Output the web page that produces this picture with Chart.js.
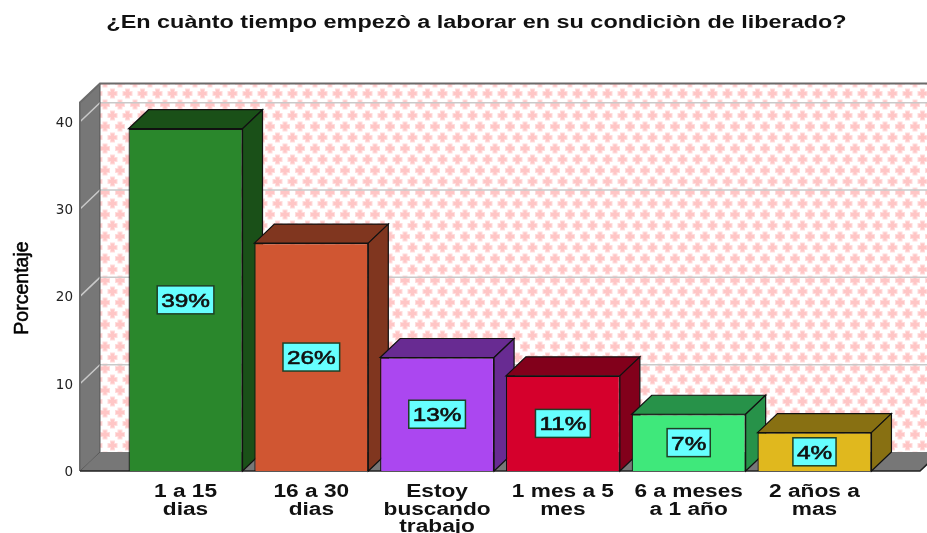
<!DOCTYPE html>
<html><head><meta charset="utf-8">
<style>html,body{margin:0;padding:0;background:#fff;overflow:hidden}canvas{display:block}</style>
<script src="https://cdn.jsdelivr.net/npm/chart.js@4"></script>
</head><body><canvas id="c" width="927" height="533"></canvas>
<script>
const titleText = "¿En cuànto tiempo empezò a laborar en su condiciòn de liberado?";
const yTitle = "Porcentaje";
const categories = [["1 a 15","dias"],["16 a 30","dias"],["Estoy","buscando","trabajo"],["1 mes a 5","mes"],["6 a meses","a 1 año"],["2 años a","mas"]];
const values = [39.2,26.1,13.0,10.9,6.5,4.4];
const valueLabels = ["39%","26%","13%","11%","7%","4%"];
const frontColors = ["#2a872c","#d05632","#ab47f0","#d5002c","#3fe87b","#e0b81e"];
const topColors = ["#1a5018","#80361f","#682b92","#82001b","#279249","#887012"];
const sideColors = ["#1a5018","#80361f","#682b92","#82001b","#279249","#887012"];
const yTicks = [0,10,20,30,40];
const DX = 20, DY = -19;

function makePattern(ctx){
  const t=document.createElement('canvas');t.width=15;t.height=22;
  const g=t.getContext('2d');
  g.fillStyle='#fff';g.fillRect(0,0,15,22);
  const plus=(x,y)=>{
    g.fillStyle='#ffdcdc';g.fillRect(x-5,y-2.5,10,5);g.fillRect(x-2.5,y-5,5,10);
    g.fillStyle='#ffc6c6';g.fillRect(x-4,y-1.5,8,3);g.fillRect(x-1.5,y-4,3,8);
  };
  plus(7.5,5.5);plus(0,16.5);plus(15,16.5);
  return ctx.createPattern(t,'repeat');
}
function poly(ctx,pts,fill,stroke,w){
  ctx.beginPath();pts.forEach((p,i)=>i?ctx.lineTo(p[0],p[1]):ctx.moveTo(p[0],p[1]));ctx.closePath();
  if(fill){ctx.fillStyle=fill;ctx.fill();}
  if(stroke){ctx.strokeStyle=stroke;ctx.lineWidth=w||1;ctx.stroke();}
}
function wideText(ctx,txt,x,y,font,sx,color,rot,heavy){
  ctx.save();
  ctx.translate(x,y);
  if(rot)ctx.rotate(rot);
  ctx.scale(sx,1);
  ctx.font=font;ctx.fillStyle=color;ctx.textAlign='center';ctx.textBaseline='alphabetic';
  ctx.fillText(txt,0,0);
  if(heavy){ctx.strokeStyle=color;ctx.lineWidth=heavy;ctx.strokeText(txt,0,0);}
  ctx.restore();
}
const box3d={id:'box3d',
  beforeDatasetsDraw(chart){
    const {ctx,chartArea:a,scales:{y}}=chart;
    ctx.save();
    const L=a.left,R=a.right,T=a.top,B=a.bottom;
    poly(ctx,[[L+DX,T+DY],[R+DX,T+DY],[R+DX,B+DY],[L+DX,B+DY]],makePattern(ctx));
    poly(ctx,[[L,T],[L+DX,T+DY],[L+DX,B+DY],[L,B]],'#777777');
    poly(ctx,[[L,B],[L+DX,B+DY],[R+DX,B+DY],[R,B]],'#777777');
    ctx.strokeStyle='#c9c9c9';ctx.lineWidth=1.5;
    yTicks.slice(1).forEach(v=>{
      const p=y.getPixelForValue(v);
      ctx.beginPath();ctx.moveTo(L,p);ctx.lineTo(L+DX,p+DY);ctx.lineTo(R+DX,p+DY);ctx.stroke();
    });
    ctx.strokeStyle='#555';ctx.lineWidth=1;
    ctx.beginPath();ctx.moveTo(L+DX,T+DY);ctx.lineTo(L+DX,B+DY);ctx.stroke();
    ctx.beginPath();ctx.moveTo(L,B);ctx.lineTo(L+DX,B+DY);ctx.stroke();
    ctx.strokeStyle='#6b6b6b';ctx.lineWidth=2;
    ctx.beginPath();ctx.moveTo(L,B);ctx.lineTo(L,T);ctx.lineTo(L+DX,T+DY);ctx.lineTo(R+DX,T+DY);ctx.stroke();
    ctx.strokeStyle='#222';ctx.lineWidth=1.5;
    ctx.beginPath();ctx.moveTo(L,B);ctx.lineTo(R,B);ctx.lineTo(R+DX,B+DY);ctx.stroke();
    chart.getDatasetMeta(0).data.forEach((b,i)=>{
      const l=b.x-b.width/2,r=b.x+b.width/2,t=b.y,bt=b.base;
      poly(ctx,[[l,t],[l+DX,t+DY],[r+DX,t+DY],[r,t]],topColors[i],'#111',1.2);
      poly(ctx,[[r,t],[r+DX,t+DY],[r+DX,bt+DY],[r,bt]],sideColors[i],'#111',1.2);
    });
    ctx.restore();
  },
  afterDatasetsDraw(chart){
    const {ctx,scales:{x}}=chart;
    ctx.save();
    const vf='19px "Liberation Sans"', sx=1.28;
    chart.getDatasetMeta(0).data.forEach((b,i)=>{
      const cy=(b.y+b.base)/2, txt=valueLabels[i];
      ctx.font=vf;
      const w=ctx.measureText(txt).width*sx+8,h=28;
      ctx.fillStyle='#66ffff';ctx.fillRect(b.x-w/2,cy-h/2,w,h);
      ctx.strokeStyle='#1f3f25';ctx.lineWidth=1.5;
      ctx.strokeRect(b.x-w/2,cy-h/2,w,h);
      ctx.save();ctx.translate(b.x,cy+7);ctx.scale(sx,1);
      ctx.font=vf;ctx.textAlign='center';ctx.fillStyle='#111';ctx.strokeStyle='#111';ctx.lineWidth=0.6;
      ctx.fillText(txt,0,0);ctx.strokeText(txt,0,0);ctx.restore();
    });
    wideText(ctx,titleText,476.5,28,'bold 17.5px "Liberation Sans"',1.338,'#111');
    categories.forEach((lines,i)=>{
      const px=x.getPixelForValue(i+1);
      lines.forEach((ln,k)=>wideText(ctx,ln,px,497+k*17.6,'bold 18px "Liberation Sans"',1.26,'#111'));
    });
    wideText(ctx,yTitle,28,288,'21px "Liberation Sans"',0.93,'#000',-Math.PI/2,0.5);
    ctx.restore();
  }
};
new Chart(document.getElementById('c'),{
  type:'bar',
  data:{datasets:[{
    data:values.map((v,i)=>({x:i+1,y:v})),
    backgroundColor:frontColors,borderColor:'#111',borderWidth:1.2,
    barPercentage:0.906,categoryPercentage:1
  }]},
  options:{
    responsive:false,animation:false,
    layout:{padding:{left:0,right:7,top:102.5,bottom:0}},
    plugins:{legend:{display:false},tooltip:{enabled:false},title:{display:false}},
    scales:{
      x:{type:'linear',offset:false,min:0.161,max:6.839,
        grid:{display:false},border:{display:false},
        afterBuildTicks(s){s.ticks=values.map((v,i)=>({value:i+1}));},
        afterFit(s){s.height=62;},
        ticks:{display:false}
      },
      y:{min:0,max:42.2,
        grid:{display:false,drawTicks:false},border:{display:false},
        afterBuildTicks(s){s.ticks=yTicks.map(v=>({value:v}));},
        afterFit(s){s.width=80;},
        ticks:{padding:7,color:'#222',labelOffset:1.5,font:{family:'"DejaVu Sans"',size:13.5}}
      }
    }
  },
  plugins:[box3d]
});
</script></body></html>
